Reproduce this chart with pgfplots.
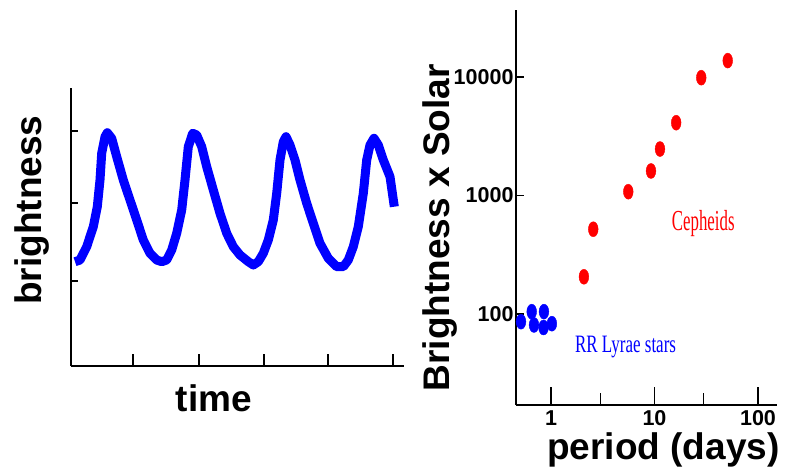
\documentclass[border=0pt]{standalone}
\usepackage{pgfplots}
\pgfplotsset{compat=1.18}
\usepackage{fontspec}
\setmainfont{Liberation Sans}
\newfontfamily\seriffont{Liberation Serif}
\usepackage{graphicx}
\begin{document}
\begin{tikzpicture}
\useasboundingbox (0,0) rectangle (810pt,472pt);
\begin{axis}[
 at={(71pt,106pt)}, anchor=south west, scale only axis, width=333pt, height=278pt,
 xmin=0, xmax=333, ymin=0, ymax=278,
 axis lines=left, axis line style={-, line width=1.5pt, black},
 tick align=inside, xtick={62,128,193,257,322}, ytick={85,163,235},
 xticklabels={}, yticklabels={},
 major tick style={line width=1.2pt, black},
 xtick style={/pgfplots/major tick length=12pt},
 ytick style={/pgfplots/major tick length=7pt},
 xlabel={time}, ylabel={brightness},
 label style={font=\fontsize{37}{44}\selectfont\bfseries},
 xlabel style={at={(axis description cs:0.429,-0.115)}, anchor=center},
 ylabel style={at={(axis description cs:-0.117,0.561)}, anchor=center},
 clip=false,
]
\addplot[blue, line width=9pt, line join=round, line cap=butt] coordinates {
(4,104.3) (9,106) (15.7,119.3) (22.3,139.3) (26.3,159.3) (29,186) (30.7,212.7) (34,229.3) (36.3,233.3)
(40.7,227.7) (45.7,209.3) (52.3,186) (59,166) (65.7,146) (72.3,126) (79,112.7) (85.7,106) (90.7,104.3)
(95.7,106) (100.7,116) (105.7,132.7) (110.7,156) (114,186) (117.3,219.3) (121.7,232.7) (125.7,231)
(130.7,219.3) (135.7,199.3) (142.3,176) (149,152.7) (155.7,132.7) (162.3,119.3) (169,111) (177.3,104.3)
(182.3,101) (187.3,104.3) (192.3,112.7) (197.3,126) (202.3,146) (205.7,172.7) (209,206) (212.3,224.3)
(215,229.3) (219,221) (224,206) (229,186) (235.7,162.7) (242.3,142.7) (249,122.7) (257.3,107.7)
(265.7,99.3) (272.3,99.3) (277.3,106) (282.3,119.3) (287.3,139.3) (292.3,172.7) (295.7,206) (299,221)
(303,227.7) (307.3,221) (312.3,206) (319,189.3) (323.3,159.3)
};
\end{axis}
\begin{axis}[
 at={(516pt,67pt)}, anchor=south west, scale only axis, width=261pt, height=395pt,
 xmode=log, ymode=log, xmin=0.459, xmax=152.7, ymin=17.06, ymax=36730,
 axis lines=left, axis line style={-, line width=1.5pt, black},
 tick align=inside,
 xtick={1,10,100}, xticklabels={1,10,100}, minor xtick={3,30},
 ytick={100,1000,10000}, yticklabels={100,1000,10000}, yminorticks=false,
 major tick style={line width=1.2pt, black},
 minor tick style={line width=1.2pt, black},
 major tick length=18pt, minor tick length=12pt,
 ytick style={/pgfplots/major tick length=8pt},
 ticklabel style={font=\fontsize{21.5}{25}\selectfont\bfseries},
 xticklabel style={yshift=-2pt},
 yticklabel style={xshift=1pt},
 xlabel={period (days)}, ylabel={Brightness x Solar},
 label style={font=\fontsize{37}{44}\selectfont\bfseries},
 xlabel style={at={(axis description cs:0.565,-0.114)}, anchor=center},
 ylabel style={at={(axis description cs:-0.291,0.449)}, anchor=center},
 clip=false,
]
\addplot[only marks, mark=*, red, mark size=7.5pt, mark options={xscale=0.65, fill=red, draw=red}] coordinates {
(2.08,206) (2.56,519) (5.58,1076) (9.25,1610) (11.3,2465) (16.2,4110) (28.3,9860) (51.0,13740)
};
\addplot[only marks, mark=*, blue, mark size=7.5pt, mark options={xscale=0.65, fill=blue, draw=blue}] coordinates {
(0.513,86.1) (0.651,104.6) (0.685,80.8) (0.855,104.6) (0.847,76.9) (1.02,82.8)
};
\node[text=red, font=\seriffont\fontsize{29}{34}\selectfont] at (axis cs:29.6,583) {\scalebox{0.58}[1]{Cepheids}};
\node[text=blue, font=\seriffont\fontsize{25}{30}\selectfont] at (axis cs:5.25,53) {\scalebox{0.68}[1]{RR Lyrae stars}};
\end{axis}
\end{tikzpicture}
\end{document}
